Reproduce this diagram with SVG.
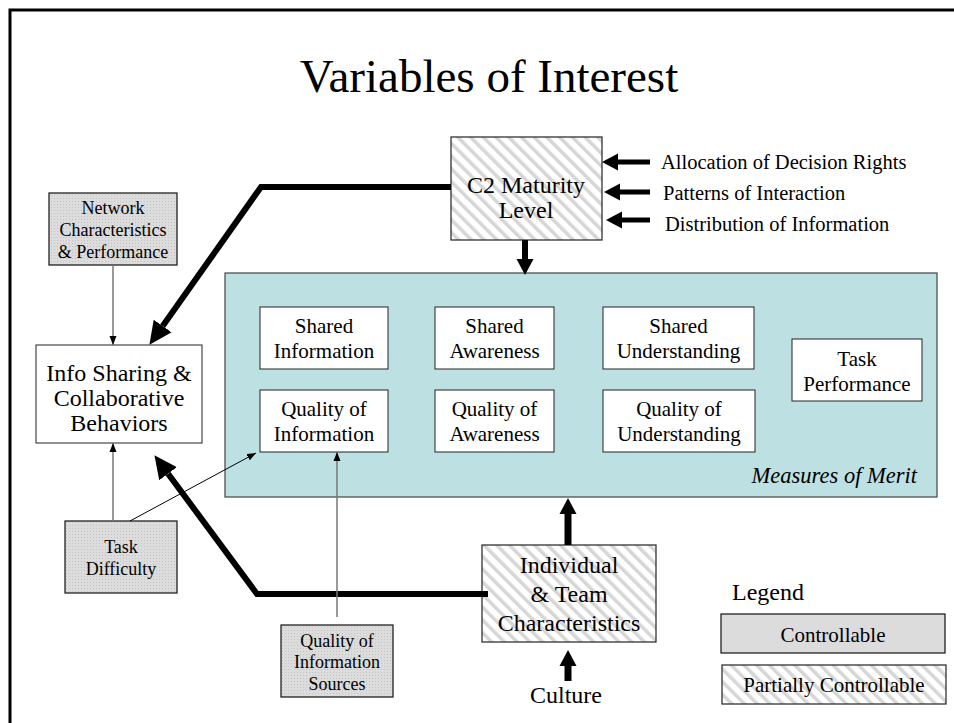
<svg xmlns="http://www.w3.org/2000/svg" width="954" height="723" viewBox="0 0 954 723">
<style>
text{font-family:"Liberation Serif","Times New Roman",serif;fill:#000;text-anchor:middle}
.big{font-size:24px}
.mid{font-size:21px}
.sm{font-size:18px}
.lab{font-size:20.5px;text-anchor:start}
.box{fill:#fff;stroke:#222;stroke-width:1}
.ctl{fill:url(#dots);stroke:#111;stroke-width:1.2}
.pc{fill:url(#hatch);stroke:#222;stroke-width:1.2}
.thin{stroke:#777;stroke-width:1.5;fill:none}
.thick{stroke:#000;stroke-width:6;fill:none}
</style>
<defs>
<pattern id="dots" patternUnits="userSpaceOnUse" width="3" height="3">
<rect width="3" height="3" fill="#dcdcdc"/>
<rect width="1" height="1" fill="#c4c4c4"/>
</pattern>
<pattern id="hatch" patternUnits="userSpaceOnUse" width="9" height="9" patternTransform="rotate(-45)">
<rect width="9" height="9" fill="#fff"/>
<rect width="3.5" height="9" fill="#d6d6d6"/>
</pattern>
<marker id="big" markerUnits="userSpaceOnUse" markerWidth="24" markerHeight="24" viewBox="0 -11 24 22" refX="0" refY="0" orient="auto">
<path d="M0,-11 L23,0 L0,11 z" fill="#000"/>
</marker>
<marker id="med" markerUnits="userSpaceOnUse" markerWidth="18" markerHeight="20" viewBox="0 -9 18 18" refX="0" refY="0" orient="auto">
<path d="M0,-8.5 L16,0 L0,8.5 z" fill="#000"/>
</marker>
<marker id="small" markerUnits="userSpaceOnUse" markerWidth="10" markerHeight="8" viewBox="0 -4 10 8" refX="9" refY="0" orient="auto">
<path d="M0,-3.5 L9,0 L0,3.5 z" fill="#000"/>
</marker>
</defs>
<rect width="954" height="723" fill="#fff"/>
<path d="M10,723 V10 H954" fill="none" stroke="#000" stroke-width="3"/>
<text x="489" y="92" style="font-size:47px">Variables of Interest</text>

<g id="measures">
<rect x="225" y="273" width="712" height="224" fill="#bde0e2" stroke="#444" stroke-width="1.2"/>
<text x="917" y="483" style="font-size:22.5px;font-style:italic;text-anchor:end">Measures of Merit</text>
</g>
<g id="shared-information">
<rect class="box" x="260" y="307" width="128" height="62"/>
<text class="mid" x="324" y="333">Shared</text><text class="mid" x="324" y="358">Information</text>
</g>
<g id="quality-information">
<rect class="box" x="260" y="390" width="128" height="62"/>
<text class="mid" x="324" y="416">Quality of</text><text class="mid" x="324" y="441">Information</text>
</g>
<g id="shared-awareness">
<rect class="box" x="435" y="307" width="119" height="62"/>
<text class="mid" x="494.5" y="333">Shared</text><text class="mid" x="494.5" y="358">Awareness</text>
</g>
<g id="quality-awareness">
<rect class="box" x="435" y="390" width="119" height="62"/>
<text class="mid" x="494.5" y="416">Quality of</text><text class="mid" x="494.5" y="441">Awareness</text>
</g>
<g id="shared-understanding">
<rect class="box" x="603" y="307" width="151" height="62"/>
<text class="mid" x="678.5" y="333">Shared</text><text class="mid" x="678.5" y="358">Understanding</text>
</g>
<g id="quality-understanding">
<rect class="box" x="603" y="390" width="152" height="62"/>
<text class="mid" x="679" y="416">Quality of</text><text class="mid" x="679" y="441">Understanding</text>
</g>
<g id="task-performance">
<rect class="box" x="792" y="339" width="130" height="62"/>
<text class="mid" x="857" y="366">Task</text><text class="mid" x="857" y="391">Performance</text>
</g>

<g id="c2-maturity">
<rect class="pc" x="451" y="137" width="151" height="103"/>
<text class="big" x="526" y="193">C2 Maturity</text><text class="big" x="526" y="218">Level</text>
</g>
<g id="network">
<rect class="ctl" x="49" y="193" width="128" height="72"/>
<text class="sm" x="113" y="214">Network</text><text class="sm" x="113" y="236">Characteristics</text><text class="sm" x="113" y="258">&amp; Performance</text>
</g>
<g id="info-sharing">
<rect class="box" x="36" y="345" width="166" height="98"/>
<text class="big" x="119" y="381">Info Sharing &amp;</text><text class="big" x="119" y="406">Collaborative</text><text class="big" x="119" y="431">Behaviors</text>
</g>
<g id="task-difficulty">
<rect class="ctl" x="65" y="521" width="112" height="72"/>
<text class="sm" x="121" y="553">Task</text><text class="sm" x="121" y="575">Difficulty</text>
</g>
<g id="quality-sources">
<rect class="ctl" x="281" y="625" width="112" height="72"/>
<text class="sm" x="337" y="647">Quality of</text><text class="sm" x="337" y="668">Information</text><text class="sm" x="337" y="690">Sources</text>
</g>
<g id="individual-team">
<rect class="pc" x="482" y="545" width="174" height="97"/>
<text class="big" x="569" y="573">Individual</text><text class="big" x="569" y="602">&amp; Team</text><text class="big" x="569" y="631">Characteristics</text>
</g>
<g id="culture">
<text class="big" x="566" y="703">Culture</text>
</g>
<g id="drivers">
<text class="lab" x="661" y="169">Allocation of Decision Rights</text>
<text class="lab" x="663" y="200">Patterns of Interaction</text>
<text class="lab" x="665" y="231">Distribution of Information</text>
</g>
<g id="legend">
<text class="big" x="732" y="600" style="text-anchor:start">Legend</text>
<rect class="ctl" x="721" y="614" width="224" height="39" style="fill:#dcdcdc"/>
<text class="mid" x="833" y="642">Controllable</text>
<rect class="pc" x="722" y="665" width="224" height="39"/>
<text class="mid" x="834" y="692">Partially Controllable</text>
</g>

<g id="connectors">
<path class="thick" d="M451,187 H261 L162.7,326" marker-end="url(#big)"/>
<path class="thick" d="M488,594 H257 L168.1,473.7" marker-end="url(#big)"/>
<path class="thick" d="M525,240 V259" marker-end="url(#med)"/>
<path class="thick" d="M568,545 V514" marker-end="url(#med)" style="stroke-width:7"/>
<path class="thick" d="M568,681 V666" marker-end="url(#med)" style="stroke-width:7"/>
<path class="thick" d="M650,162 H618" marker-end="url(#med)" style="stroke-width:5"/>
<path class="thick" d="M650,192 H620" marker-end="url(#med)" style="stroke-width:5"/>
<path class="thick" d="M650,220 H622" marker-end="url(#med)" style="stroke-width:5"/>
<path class="thin" d="M113,265 V345" marker-end="url(#small)"/>
<path class="thin" d="M113,521 V443" marker-end="url(#small)"/>
<path class="thin" d="M337,617 V452" marker-end="url(#small)"/>
<path d="M130,521 L256,453" stroke="#000" stroke-width="1" fill="none" marker-end="url(#small)"/>
</g>
</svg>
